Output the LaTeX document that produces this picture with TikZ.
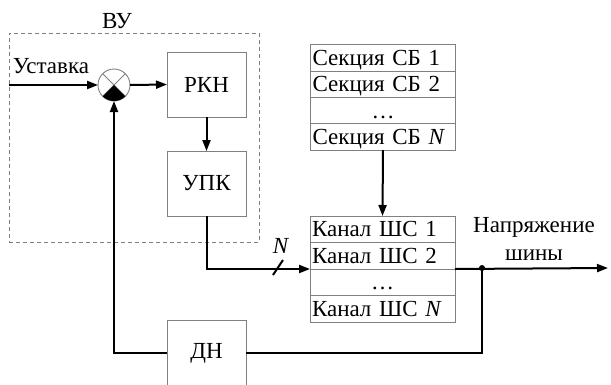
\documentclass[tikz,border=0pt]{standalone}
\usepackage{fontspec}
\setmainfont{Liberation Serif}
\usetikzlibrary{arrows.meta}
\begin{document}
\begin{tikzpicture}[x=1pt,y=-1pt,
  every node/.style={font=\fontsize{23}{26}\selectfont},
  blk/.style={draw=gray, line width=1pt, minimum width=79pt, minimum height=65pt, inner sep=0pt, outer sep=0pt},
  rowbox/.style={draw=gray, line width=1pt, minimum width=145pt, minimum height=26.5pt, inner xsep=2pt, inner ysep=0pt, outer sep=0pt, text width=141pt, align=left, text height=19pt, text depth=4pt},
  wire/.style={line width=2pt},
  arr/.style={wire, -{Triangle[length=11pt,width=8pt]}},
  lbl/.style={inner sep=0pt}
]
\useasboundingbox (0,0) rectangle (611,384);
% dashed group
\node[draw=gray, dashed, dash pattern=on 4pt off 3pt, line width=1pt, minimum width=250pt, minimum height=209pt, inner sep=0pt, outer sep=0pt] (vu) at (134,137.5) {};
\node[lbl, anchor=base] (vulbl) at (117,28) {ВУ};
% summing junction
\node[circle, draw=gray, line width=0.9pt, minimum size=32pt, inner sep=0pt, outer sep=0pt] (sum) at (114,85) {};
\draw[gray, line width=0.9pt] (sum.north west) -- (sum.south east) (sum.north east) -- (sum.south west);
\fill (sum.center) -- (sum.south east) arc[start angle=-45, end angle=-135, radius=16pt] -- cycle;
% blocks
\node[blk] (rkn) at (206.5,84.5) {РКН};
\node[blk] (upk) at (206.5,183.5) {УПК};
\node[blk] (dn) at (206.5,353) {ДН};
% sections
\node[rowbox] (sb1) at (383,58.1) {Секция СБ 1};
\node[rowbox] (sb2) at (383,84.4) {Секция СБ 2};
\node[rowbox, align=center] (sb3) at (383,110.6) {…};
\node[rowbox] (sbn) at (383,136.9) {Секция СБ \textit{N}};
% channels
\node[rowbox] (kan1) at (382.5,229.25) {Канал ШС 1};
\node[rowbox] (kan2) at (382.5,255.75) {Канал ШС 2};
\node[rowbox, align=center] (kan3) at (382.5,282.25) {…};
\node[rowbox] (kann) at (382.5,308.75) {Канал ШС \textit{N}};
% labels
\coordinate (inp) at (9,85);
\node[lbl, anchor=base] (ustlbl) at (51,73) {Уставка};
\node[lbl, anchor=base] (nlbl) at (281,253) {\textit{N}};
\node[lbl, anchor=base] (outlbl1) at (534,232) {Напряжение};
\node[lbl, anchor=base] (outlbl2) at (534,260) {шины};
\coordinate (out) at (608,268);
\coordinate (j) at (482,268);
% connectors
\draw[arr] (inp) -- (sum.west);
\draw[arr] (sum.east) -- (rkn.west);
\draw[arr] (rkn.south) -- (upk.north);
\draw[arr] (upk.south) |- (kan2.south west);
\draw[wire] (273,275) -- (283,260);
\draw[arr] (sbn.south) -- (kan1.north);
\draw[arr] (kan2.south east) -- (out);
\fill (j) circle (3pt);
\draw[wire] (j) |- (dn.east);
\draw[arr] (dn.west) -| (sum.south);
\end{tikzpicture}
\end{document}
